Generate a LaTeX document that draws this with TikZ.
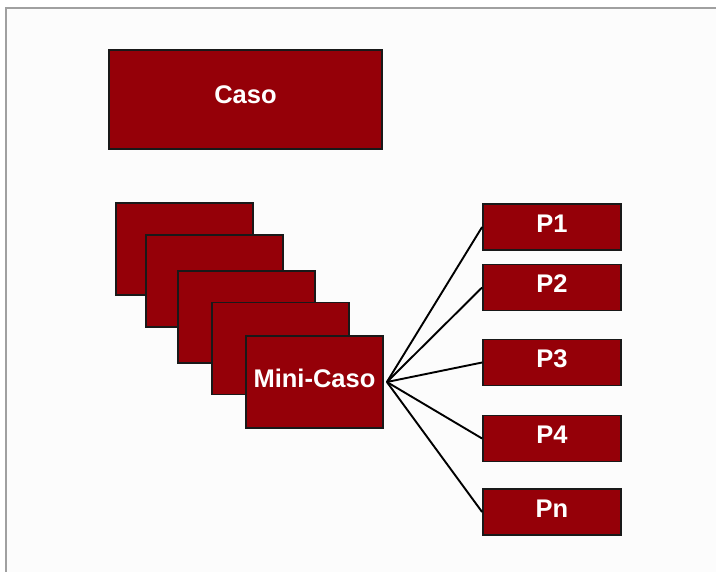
\documentclass[tikz,border=0pt]{standalone}
\usepackage{fontspec}
\setmainfont{Liberation Sans}
\begin{document}
\begin{tikzpicture}[x=1pt,y=-1pt,
  redbox/.style={draw=black!90, line width=1.8pt, fill=boxred, inner sep=0pt,
    text=white, font=\fontsize{25.5}{28}\selectfont\bfseries,
    text height=18pt, text depth=7pt},
  minibox/.style={redbox, minimum width=137pt, minimum height=92pt},
  pbox/.style={redbox, minimum width=138pt, minimum height=46pt},
  link/.style={draw=black, line width=1.9pt}]
\definecolor{boxred}{RGB}{149,0,8}
\definecolor{framegray}{RGB}{160,160,160}
\useasboundingbox (0,0) rectangle (716,572);
\fill[white] (0,0) rectangle (716,572);
\fill[black!1] (6,8) rectangle (716,572);
\draw[framegray, line width=2pt] (5,8) -- (716,8);
\draw[framegray, line width=2pt] (6,8) -- (6,572);
\node[redbox, minimum width=273pt, minimum height=99pt, text depth=10pt] (caso) at (245.5,99.5) {Caso};
\node[minibox] (m1) at (184.5,249) {};
\node[minibox] (m2) at (214.5,281) {};
\node[minibox] (m3) at (246.5,317) {};
\node[minibox] (m4) at (280.5,348.5) {};
\node[minibox] (mini) at (314.5,382) {Mini-Caso};
\node[pbox] (p1) at (552,227) {P1};
\node[pbox] (p2) at (552,287.5) {P2};
\node[pbox] (p3) at (552,362.5) {P3};
\node[pbox] (p4) at (552,438.5) {P4};
\node[pbox] (pn) at (552,512) {Pn};
\coordinate (hub) at ([xshift=3pt]mini.east);
\foreach \p in {p1,p2,p3,p4,pn}
  \draw[link] (hub) -- (\p.west);
\end{tikzpicture}
\end{document}
